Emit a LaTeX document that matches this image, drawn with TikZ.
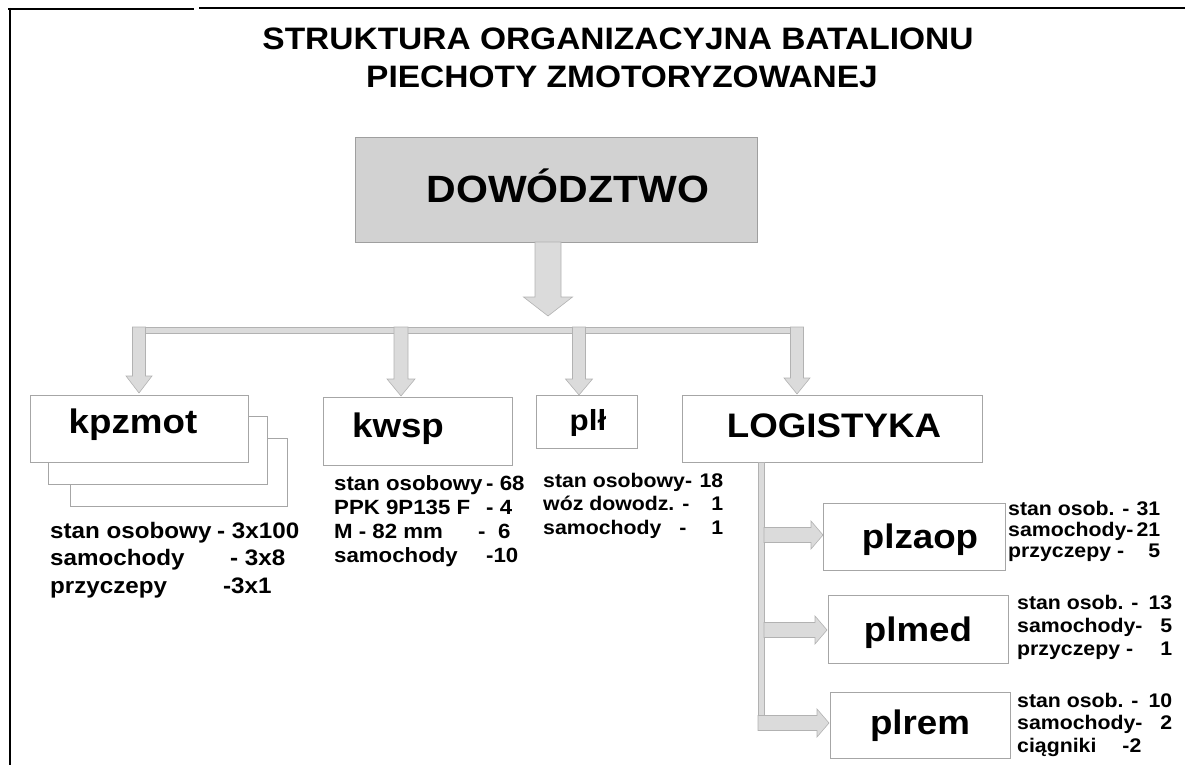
\documentclass[tikz,border=0pt]{standalone}
\usepackage{fontspec}
\setmainfont{Liberation Sans}[FakeStretch=1.08]
\usetikzlibrary{calc}
\newcommand\fsz[2]{\fontsize{#1}{#2}\selectfont}
% down arrow: x, ytop, ytip, shaft half, head half, head length
\newcommand\DArrow[6]{%
  \draw[fatarr] ({#1-#4},#2) -- ({#1+#4},#2) -- ({#1+#4},{#3-#6}) -- ({#1+#5},{#3-#6})
    -- (#1,#3) -- ({#1-#5},{#3-#6}) -- ({#1-#4},{#3-#6}) -- cycle;}
% right arrow: xstart, y, xtip, shaft half, head half, head length
\newcommand\RArrow[6]{%
  \draw[fatarr] (#1,{#2-#4}) -- ({#3-#6},{#2-#4}) -- ({#3-#6},{#2-#5}) -- (#3,#2)
    -- ({#3-#6},{#2+#5}) -- ({#3-#6},{#2+#4}) -- (#1,{#2+#4}) -- cycle;}
\tikzset{
  fatarr/.style={fill=gray!28, draw=gray!60, line width=0.6pt},
  unit/.style={draw=gray!70, line width=0.8pt, fill=white, inner sep=0},
  lbl/.style={inner sep=0, anchor=base, font=\bfseries\fsz{34}{38}},
  info/.style={inner sep=0, anchor=base west},
}
\begin{document}
\begin{tikzpicture}[x=1pt, y=-1pt]
\useasboundingbox (0,0) rectangle (1185,765);
% frame
\draw[line width=1.5pt] (8,9) -- (194,9);
\draw[line width=1.5pt] (199,8) -- (1185,8);
\draw[line width=1.5pt] (10,8) -- (10,765);
% title
\node[inner sep=0, anchor=base, font=\bfseries\fsz{31}{36}] (t1) at (618,50) {STRUKTURA ORGANIZACYJNA BATALIONU};
\node[inner sep=0, anchor=base, font=\bfseries\fsz{31}{36}] (t2) at (622,88) {PIECHOTY ZMOTORYZOWANEJ};
% command
\node[draw=gray!75, fill=gray!35, line width=0.8pt, minimum width=402, minimum height=105, inner sep=0] (dow) at (556,189.5) {};
\node[inner sep=0, anchor=base, font=\bfseries\fsz{38}{42}] (dowt) at (568,202) {DOWÓDZTWO};
\DArrow{548}{242}{316}{13}{24.5}{19}
% distribution bar
\draw[fatarr] (132,327) rectangle (803,333);
\DArrow{139}{327}{393}{6.5}{13}{17}
\DArrow{401}{327}{396}{7}{14}{17}
\DArrow{579}{327}{395}{6.5}{13.5}{16}
\DArrow{797}{327}{394}{6.5}{13}{16}
% kpzmot stack
\node[unit, minimum width=217, minimum height=68] (kp3) at (178.5,472) {};
\node[unit, minimum width=219, minimum height=68] (kp2) at (157.5,450) {};
\node[unit, minimum width=218, minimum height=67] (kp1) at (139,428.5) {};
\node[lbl] (kp1t) at (133,433) {kpzmot};
% kwsp
\node[unit, minimum width=189, minimum height=68] (kwsp) at (417.5,431) {};
\node[lbl] (kwspt) at (398,437) {kwsp};
% pl
\node[unit, minimum width=101, minimum height=53] (pll) at (586.5,421.5) {};
\node[lbl, font=\bfseries\fsz{29}{32}] (pllt) at (588,430) {plł};
% logistyka
\node[unit, minimum width=300, minimum height=67] (log) at (832,428.5) {};
\node[lbl] (logt) at (834,437) {LOGISTYKA};
% logistics branch
\draw[fatarr] (758,462) rectangle (764,730);
\RArrow{764}{535}{823}{7.5}{14}{12}
\RArrow{764}{630}{827}{7.5}{14}{12}
\RArrow{758}{723}{829}{7.5}{14}{12}
\node[unit, minimum width=182, minimum height=67] (plz) at (914,536.5) {};
\node[lbl] (plzt) at (920,548) {plzaop};
\node[unit, minimum width=180, minimum height=68] (plm) at (918,629) {};
\node[lbl] (plmt) at (918,641) {plmed};
\node[unit, minimum width=180, minimum height=66] (plr) at (920,725) {};
\node[lbl] (plrt) at (920,734) {plrem};
% info blocks
\node[info, font=\bfseries\fsz{22.4}{27.5}] (kpi) at (50,538) {\begin{tabular}[t]{@{}l@{}}
\makebox[167pt][l]{stan osobowy}- 3x100\\
\makebox[180pt][l]{samochody}- 3x8\\
\makebox[173pt][l]{przyczepy}-3x1
\end{tabular}};
\node[info, font=\bfseries\fsz{20.6}{24}] (kwi) at (334,490) {\begin{tabular}[t]{@{}l@{}}
\makebox[152pt][l]{stan osobowy}- 68\\
\makebox[152pt][l]{PPK 9P135 F}- 4\\
\makebox[144pt][l]{M - 82 mm}\makebox[20pt][l]{-}6\\
\makebox[152pt][l]{samochody}-10
\end{tabular}};
\node[info, font=\bfseries\fsz{19.7}{23.5}] (pli) at (543,487) {\begin{tabular}[t]{@{}l@{}}
\makebox[180pt][l]{stan osobowy-}\llap{18}\\
\makebox[180pt][l]{wóz dowodz. -}\llap{1}\\
\makebox[180pt][l]{samochody\hspace{18pt}-}\llap{1}
\end{tabular}};
\node[info, font=\bfseries\fsz{19.7}{21}] (plzi) at (1008,515) {\begin{tabular}[t]{@{}l@{}}
\makebox[152pt][l]{stan osob. -}\llap{31}\\
\makebox[152pt][l]{samochody-}\llap{21}\\
\makebox[152pt][l]{przyczepy\hspace{6pt}-}\llap{5}
\end{tabular}};
\node[info, font=\bfseries\fsz{19.7}{23}] (plmi) at (1017,609) {\begin{tabular}[t]{@{}l@{}}
\makebox[155pt][l]{stan osob. -}\llap{13}\\
\makebox[155pt][l]{samochody-}\llap{5}\\
\makebox[155pt][l]{przyczepy\hspace{6pt}-}\llap{1}
\end{tabular}};
\node[info, font=\bfseries\fsz{19.7}{22.5}] (plri) at (1017,707) {\begin{tabular}[t]{@{}l@{}}
\makebox[155pt][l]{stan osob. -}\llap{10}\\
\makebox[155pt][l]{samochody-}\llap{2}\\
\makebox[155pt][l]{ciągniki\hspace{26pt}-2}
\end{tabular}};
\end{tikzpicture}
\end{document}
